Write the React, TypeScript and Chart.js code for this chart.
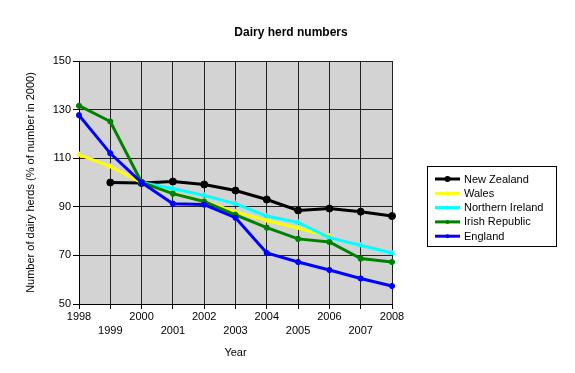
import React, { useEffect, useRef } from "react";
import { Chart, registerables } from "chart.js";

Chart.register(...registerables);

const years = ["1998", "1999", "2000", "2001", "2002", "2003", "2004", "2005", "2006", "2007", "2008"];
const newZealand = [null, 100, 99.8, 100.4, 99.2, 96.7, 93, 88.5, 89.3, 88, 86.2];
const wales = [111.5, 106.6, 100, 95.6, 92.3, 87.9, 84.4, 81.3, 77.9, null, null];
const northernIreland = [null, null, 100, 97.5, 94.7, 91.3, 86.2, 83.6, 77.3, 74.2, 71];
const irishRepublic = [131.6, 125.1, 100, 95.4, 92.2, 86.7, 81.4, 76.8, 75.5, 68.7, 67.3];
const england = [127.7, 112, 100, 91.3, 90.9, 85.5, 71, 67.3, 64, 60.5, 57.4];
const yTicks = [50, 70, 90, 110, 130, 150];

const seriesNames = ["New Zealand", "Wales", "Northern Ireland", "Irish Republic", "England"];
const seriesColors = ["#000000", "#ffff00", "#00ffff", "#008000", "#0000ff"];
const seriesData = [newZealand, wales, northernIreland, irishRepublic, england];
const seriesMarkers = ["circle", "triangle", "triangle", "star", "star"];

const FONT = "'Liberation Sans', Arial, sans-serif";

const bgPlugin = {
  id: "plotBg",
  beforeDraw(chart: any) {
    const { ctx, chartArea } = chart;
    ctx.save();
    ctx.fillStyle = "#d3d3d3";
    ctx.fillRect(chartArea.left, chartArea.top, chartArea.right - chartArea.left, chartArea.bottom - chartArea.top);
    ctx.restore();
  },
  afterDraw(chart: any) {
    const { ctx } = chart;
    ctx.save();
    // title
    ctx.fillStyle = "#000";
    ctx.font = `bold 12px ${FONT}`;
    ctx.textAlign = "center";
    ctx.textBaseline = "middle";
    ctx.fillText("Dairy herd numbers", 283, 25);
    // legend box
    const bx = 419.5, by = 158.5, bw = 129, bh = 80;
    ctx.strokeStyle = "#000";
    ctx.lineWidth = 1;
    ctx.fillStyle = "#fff";
    ctx.fillRect(bx, by, bw, bh);
    ctx.strokeRect(bx, by, bw, bh);
    ctx.font = `11px ${FONT}`;
    ctx.textAlign = "left";
    for (let i = 0; i < seriesNames.length; i++) {
      const y = 171 + i * 14.3;
      ctx.strokeStyle = seriesColors[i];
      ctx.lineWidth = 3;
      ctx.beginPath();
      ctx.moveTo(427, y);
      ctx.lineTo(452, y);
      ctx.stroke();
      ctx.fillStyle = seriesColors[i];
      ctx.beginPath();
      ctx.arc(439.5, y, i === 0 ? 3 : 2, 0, Math.PI * 2);
      ctx.fill();
      ctx.fillStyle = "#000";
      ctx.fillText(seriesNames[i], 456, y + 0.5);
    }
    ctx.restore();
  },
};

export default function App() {
  const ref = useRef<HTMLCanvasElement | null>(null);
  useEffect(() => {
    if (!ref.current) return;
    const chart = new Chart(ref.current, {
      type: "line",
      data: {
        labels: years,
        datasets: seriesNames.map((name, i) => ({
          label: name,
          data: seriesData[i],
          borderColor: seriesColors[i],
          backgroundColor: seriesColors[i],
          borderWidth: 3,
          pointStyle: seriesMarkers[i] as any,
          pointRadius: i === 0 ? 3.5 : 3,
          pointBorderWidth: i >= 3 ? 2 : 1,
          pointBorderColor: seriesColors[i],
          pointBackgroundColor: seriesColors[i],
          tension: 0,
          spanGaps: false,
          order: 4 - i,
        })),
      },
      options: {
        animation: false,
        responsive: false,
        layout: { padding: { left: 0, top: 53, right: 175, bottom: 0 } },
        plugins: { legend: { display: false }, title: { display: false }, tooltip: { enabled: false } },
        scales: {
          x: {
            type: "category",
            offset: false,
            afterFit(scale: any) { scale.height = 61; },
            grid: { color: "#222", lineWidth: 1, tickLength: 5, drawTicks: true, tickColor: "#000" },
            border: { color: "#000", width: 1 },
            ticks: {
              autoSkip: false,
              maxRotation: 0,
              minRotation: 0,
              padding: 1,
              color: "#000",
              font: { family: FONT, size: 11, lineHeight: 1.3 },
              callback(_v: any, idx: number) {
                const y = years[idx];
                return idx % 2 === 0 ? y : ["", y];
              },
            },
            title: {
              display: true,
              text: "Year",
              color: "#000",
              font: { family: FONT, size: 11 },
              padding: { top: 0, bottom: 5 },
            },
          },
          y: {
            type: "linear",
            min: 50,
            max: 150,
            afterFit(scale: any) { scale.width = 71; },
            afterBuildTicks(scale: any) { scale.ticks = yTicks.map((v) => ({ value: v })); },
            grid: { color: "#222", lineWidth: 1, tickLength: 6, tickColor: "#000" },
            border: { color: "#000", width: 1 },
            ticks: { color: "#000", padding: 2, font: { family: FONT, size: 11 } },
            title: {
              display: true,
              text: "Number of dairy herds (% of number in 2000)",
              color: "#000",
              font: { family: FONT, size: 11 },
              padding: { top: 16, bottom: 0 },
            },
          },
        },
      },
      plugins: [bgPlugin],
    });
    return () => chart.destroy();
  }, []);
  return (
    <div style={{ width: 559, height: 357 }}>
      <canvas ref={ref} width={559} height={357} style={{ display: "block" }} />
    </div>
  );
}
